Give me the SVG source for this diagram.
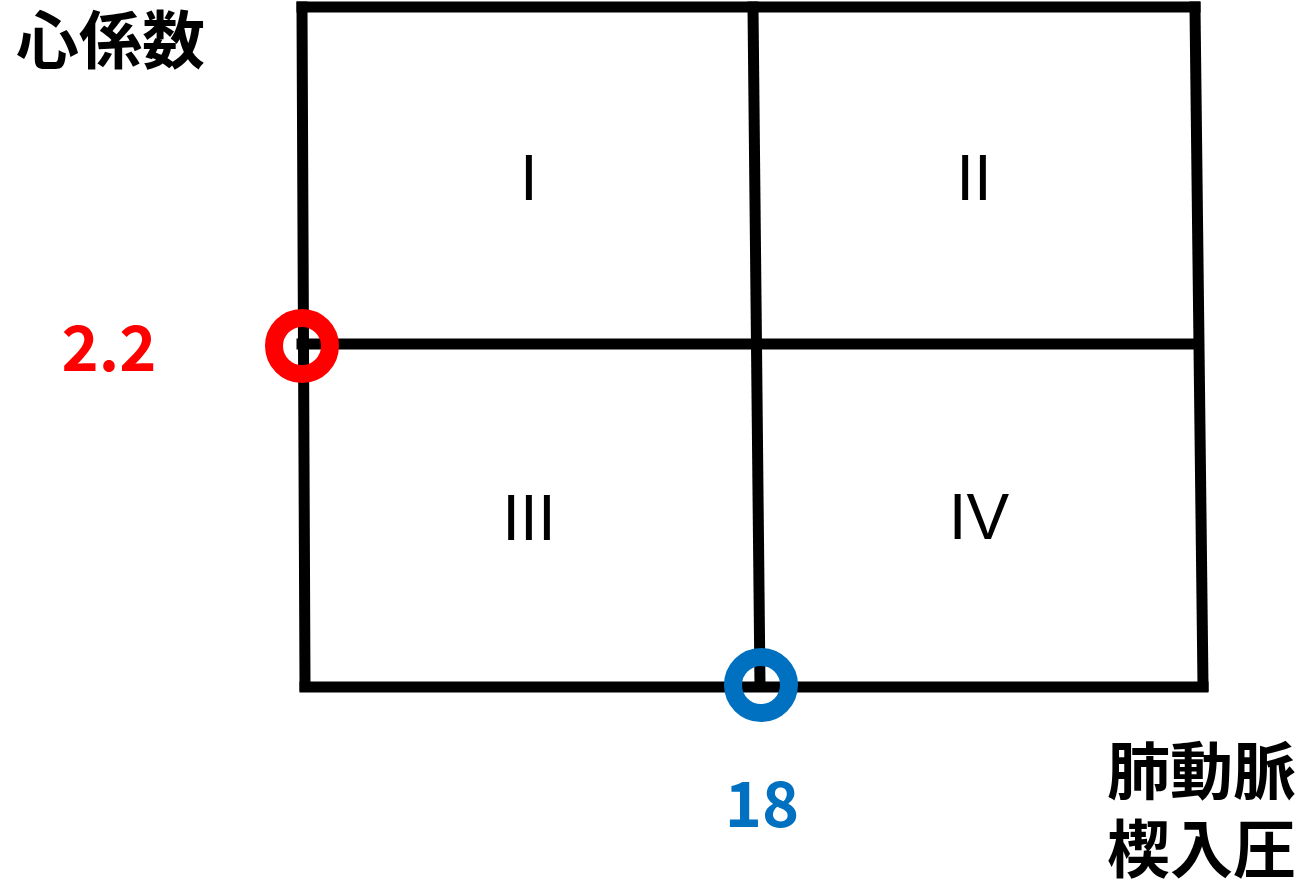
<svg xmlns="http://www.w3.org/2000/svg" width="1306" height="880" viewBox="0 0 1306 880">
<style>
.ln{stroke:#000;stroke-width:11;fill:none;stroke-linecap:square}
.rn{font-family:"Liberation Sans",Arial,sans-serif;font-size:64px;fill:#000;text-anchor:middle}
.jp{font-family:"Noto Sans CJK JP","Noto Sans CJK SC",sans-serif;font-weight:bold;font-size:63px;fill:#000}
.num{font-family:"Noto Sans CJK JP",sans-serif;font-weight:bold;font-size:63px;text-anchor:middle}
.ring{fill:none;stroke-width:18}
</style>
<rect width="1306" height="880" fill="#fff"/>
<g id="connectors">
<line class="ln" x1="302" y1="7" x2="1195" y2="7"/>
<line class="ln" x1="302" y1="7" x2="305" y2="686"/>
<line class="ln" x1="1195" y1="7" x2="1203" y2="686"/>
<line class="ln" x1="753" y1="7" x2="760" y2="686"/>
<line class="ln" x1="302" y1="344" x2="1198" y2="344"/>
<line class="ln" x1="305" y1="687" x2="1203" y2="687"/>
</g>
<g id="quadrant-I"><text class="rn" x="529" y="200">I</text></g>
<g id="quadrant-II"><text class="rn" x="974" y="200">II</text></g>
<g id="quadrant-III"><text class="rn" x="529" y="540">III</text></g>
<g id="quadrant-IV"><text class="rn" x="979" y="539">IV</text></g>
<g id="axis-y"><text class="jp" x="16" y="63">心係数</text></g>
<g id="axis-x"><text class="jp" x="1107" y="794">肺動脈</text><text class="jp" x="1107" y="872">楔入圧</text></g>
<g id="marker-ci"><circle class="ring" cx="302" cy="346" r="28" stroke="#ff0000"/><text class="num" x="109" y="371" fill="#ff0000">2.2</text></g>
<g id="marker-pcwp"><circle class="ring" cx="761" cy="685" r="28" stroke="#0070c0"/><text class="num" x="762" y="827" fill="#0070c0">18</text></g>
</svg>
